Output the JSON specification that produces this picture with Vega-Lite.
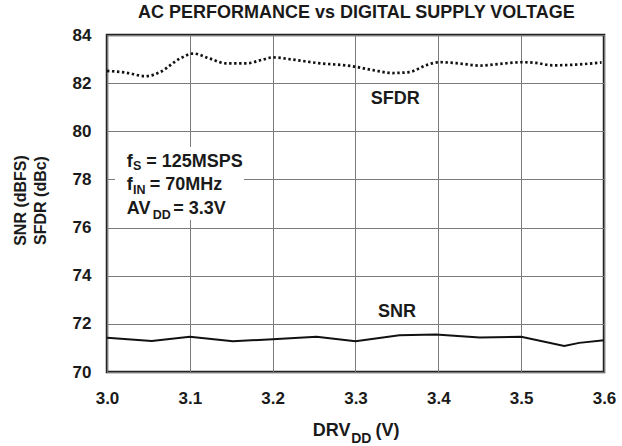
{
  "$schema": "https://vega.github.io/schema/vega-lite/v6.json",
  "width": 497,
  "height": 337,
  "autosize": {"type": "none"},
  "padding": {"left": 107, "top": 35, "right": 18, "bottom": 74},
  "background": "white",
  "config": {
    "font": "Liberation Sans",
    "view": {"stroke": "#222222", "strokeWidth": 2.5},
    "axis": {
      "labelFont": "Liberation Sans",
      "labelFontWeight": "bold",
      "labelFontSize": 17,
      "labelColor": "#1a1a1a",
      "ticks": false,
      "domain": false,
      "grid": true,
      "gridColor": "#7a7a7a",
      "gridWidth": 1,
      "labelFlush": false,
      "labelOverlap": false,
      "labelBound": false
    }
  },
  "datasets": {
    "curves": [
      {"series": "SFDR", "drv": 3.000, "value": 82.51},
      {"series": "SFDR", "drv": 3.022, "value": 82.44},
      {"series": "SFDR", "drv": 3.047, "value": 82.29},
      {"series": "SFDR", "drv": 3.064, "value": 82.46},
      {"series": "SFDR", "drv": 3.088, "value": 83.02},
      {"series": "SFDR", "drv": 3.104, "value": 83.23},
      {"series": "SFDR", "drv": 3.124, "value": 83.02},
      {"series": "SFDR", "drv": 3.144, "value": 82.82},
      {"series": "SFDR", "drv": 3.168, "value": 82.82},
      {"series": "SFDR", "drv": 3.188, "value": 82.98},
      {"series": "SFDR", "drv": 3.200, "value": 83.07},
      {"series": "SFDR", "drv": 3.224, "value": 82.98},
      {"series": "SFDR", "drv": 3.253, "value": 82.84},
      {"series": "SFDR", "drv": 3.297, "value": 82.70},
      {"series": "SFDR", "drv": 3.321, "value": 82.54},
      {"series": "SFDR", "drv": 3.345, "value": 82.42},
      {"series": "SFDR", "drv": 3.365, "value": 82.46},
      {"series": "SFDR", "drv": 3.385, "value": 82.74},
      {"series": "SFDR", "drv": 3.401, "value": 82.87},
      {"series": "SFDR", "drv": 3.425, "value": 82.82},
      {"series": "SFDR", "drv": 3.450, "value": 82.73},
      {"series": "SFDR", "drv": 3.474, "value": 82.80},
      {"series": "SFDR", "drv": 3.502, "value": 82.87},
      {"series": "SFDR", "drv": 3.518, "value": 82.84},
      {"series": "SFDR", "drv": 3.538, "value": 82.74},
      {"series": "SFDR", "drv": 3.566, "value": 82.77},
      {"series": "SFDR", "drv": 3.597, "value": 82.86},
      {"series": "SNR", "drv": 3.000, "value": 71.42},
      {"series": "SNR", "drv": 3.054, "value": 71.29},
      {"series": "SNR", "drv": 3.100, "value": 71.46},
      {"series": "SNR", "drv": 3.152, "value": 71.28},
      {"series": "SNR", "drv": 3.200, "value": 71.36},
      {"series": "SNR", "drv": 3.253, "value": 71.46},
      {"series": "SNR", "drv": 3.300, "value": 71.28},
      {"series": "SNR", "drv": 3.353, "value": 71.53},
      {"series": "SNR", "drv": 3.397, "value": 71.56},
      {"series": "SNR", "drv": 3.450, "value": 71.43},
      {"series": "SNR", "drv": 3.500, "value": 71.46},
      {"series": "SNR", "drv": 3.552, "value": 71.08},
      {"series": "SNR", "drv": 3.570, "value": 71.21},
      {"series": "SNR", "drv": 3.600, "value": 71.32}
    ]
  },
  "layer": [
    {
      "data": {"name": "curves"},
      "transform": [{"filter": "datum.series === 'SNR'"}],
      "mark": {"type": "line", "color": "#111111", "strokeWidth": 2},
      "encoding": {
        "x": {
          "field": "drv", "type": "quantitative",
          "scale": {"domain": [3.0, 3.6], "nice": false, "zero": false},
          "axis": {"values": [3.0, 3.1, 3.2, 3.3, 3.4, 3.5, 3.6], "format": ".1f", "labelPadding": 18, "title": null}
        },
        "y": {
          "field": "value", "type": "quantitative",
          "scale": {"domain": [70, 84], "nice": false, "zero": false},
          "axis": {
            "values": [70, 72, 74, 76, 78, 80, 82, 84], "format": "d", "labelPadding": 16,
            "title": ["SNR (dBFS)", "SFDR (dBc)"],
            "titleFont": "Liberation Sans", "titleFontSize": 16, "titleFontWeight": "bold",
            "titleColor": "#1a1a1a", "titleLineHeight": 20, "titleAngle": 270,
            "titleBaseline": "alphabetic", "titleAlign": "center",
            "titleX": -82, "titleY": 165
          }
        }
      }
    },
    {
      "data": {"name": "curves"},
      "transform": [{"filter": "datum.series === 'SFDR'"}],
      "mark": {"type": "line", "color": "#111111", "strokeWidth": 2.7, "strokeDash": [2.4, 2.6], "interpolate": "monotone"},
      "encoding": {
        "x": {"field": "drv", "type": "quantitative"},
        "y": {"field": "value", "type": "quantitative"}
      }
    },
    {
      "data": {"values": [{}]},
      "mark": {"type": "rect", "fill": "white"},
      "encoding": {
        "x": {"datum": 3.0097, "type": "quantitative"},
        "x2": {"datum": 3.1654},
        "y": {"datum": 79.35, "type": "quantitative"},
        "y2": {"datum": 76.31}
      }
    },
    {
      "data": {"values": [{}]},
      "mark": {"type": "text", "text": "AC PERFORMANCE vs DIGITAL SUPPLY VOLTAGE", "font": "Liberation Sans", "fontWeight": "bold", "fontSize": 18, "color": "#1a1a1a", "align": "center", "baseline": "alphabetic"},
      "encoding": {"x": {"datum": 3.301, "type": "quantitative"}, "y": {"datum": 84.69, "type": "quantitative"}}
    },
    {
      "data": {"values": [{}]},
      "mark": {"type": "text", "text": "SFDR", "font": "Liberation Sans", "fontWeight": "bold", "fontSize": 18, "color": "#1a1a1a", "align": "center", "baseline": "alphabetic"},
      "encoding": {"x": {"datum": 3.348, "type": "quantitative"}, "y": {"datum": 81.15, "type": "quantitative"}}
    },
    {
      "data": {"values": [{}]},
      "mark": {"type": "text", "text": "SNR", "font": "Liberation Sans", "fontWeight": "bold", "fontSize": 18, "color": "#1a1a1a", "align": "center", "baseline": "alphabetic"},
      "encoding": {"x": {"datum": 3.35, "type": "quantitative"}, "y": {"datum": 72.27, "type": "quantitative"}}
    },
    {
      "data": {"values": [{}]},
      "mark": {"type": "text", "text": "f", "font": "Liberation Sans", "fontWeight": "bold", "fontSize": 18, "color": "#1a1a1a", "align": "left", "baseline": "alphabetic"},
      "encoding": {"x": {"datum": 3.0238, "type": "quantitative"}, "y": {"datum": 78.53, "type": "quantitative"}}
    },
    {
      "data": {"values": [{}]},
      "mark": {"type": "text", "text": "S", "font": "Liberation Sans", "fontWeight": "bold", "fontSize": 12.5, "color": "#1a1a1a", "align": "left", "baseline": "alphabetic", "dx": 6.3, "dy": 3.5},
      "encoding": {"x": {"datum": 3.0238, "type": "quantitative"}, "y": {"datum": 78.53, "type": "quantitative"}}
    },
    {
      "data": {"values": [{}]},
      "mark": {"type": "text", "text": "= 125MSPS", "font": "Liberation Sans", "fontWeight": "bold", "fontSize": 18, "color": "#1a1a1a", "align": "left", "baseline": "alphabetic", "dx": 19.5},
      "encoding": {"x": {"datum": 3.0238, "type": "quantitative"}, "y": {"datum": 78.53, "type": "quantitative"}}
    },
    {
      "data": {"values": [{}]},
      "mark": {"type": "text", "text": "f", "font": "Liberation Sans", "fontWeight": "bold", "fontSize": 18, "color": "#1a1a1a", "align": "left", "baseline": "alphabetic"},
      "encoding": {"x": {"datum": 3.0238, "type": "quantitative"}, "y": {"datum": 77.56, "type": "quantitative"}}
    },
    {
      "data": {"values": [{}]},
      "mark": {"type": "text", "text": "IN", "font": "Liberation Sans", "fontWeight": "bold", "fontSize": 12.5, "color": "#1a1a1a", "align": "left", "baseline": "alphabetic", "dx": 6.3, "dy": 3.5},
      "encoding": {"x": {"datum": 3.0238, "type": "quantitative"}, "y": {"datum": 77.56, "type": "quantitative"}}
    },
    {
      "data": {"values": [{}]},
      "mark": {"type": "text", "text": "= 70MHz", "font": "Liberation Sans", "fontWeight": "bold", "fontSize": 18, "color": "#1a1a1a", "align": "left", "baseline": "alphabetic", "dx": 23},
      "encoding": {"x": {"datum": 3.0238, "type": "quantitative"}, "y": {"datum": 77.56, "type": "quantitative"}}
    },
    {
      "data": {"values": [{}]},
      "mark": {"type": "text", "text": "AV", "font": "Liberation Sans", "fontWeight": "bold", "fontSize": 18, "color": "#1a1a1a", "align": "left", "baseline": "alphabetic"},
      "encoding": {"x": {"datum": 3.0238, "type": "quantitative"}, "y": {"datum": 76.56, "type": "quantitative"}}
    },
    {
      "data": {"values": [{}]},
      "mark": {"type": "text", "text": "DD", "font": "Liberation Sans", "fontWeight": "bold", "fontSize": 12.5, "color": "#1a1a1a", "align": "left", "baseline": "alphabetic", "dx": 26, "dy": 5},
      "encoding": {"x": {"datum": 3.0238, "type": "quantitative"}, "y": {"datum": 76.56, "type": "quantitative"}}
    },
    {
      "data": {"values": [{}]},
      "mark": {"type": "text", "text": "= 3.3V", "font": "Liberation Sans", "fontWeight": "bold", "fontSize": 18, "color": "#1a1a1a", "align": "left", "baseline": "alphabetic", "dx": 46.5},
      "encoding": {"x": {"datum": 3.0238, "type": "quantitative"}, "y": {"datum": 76.56, "type": "quantitative"}}
    },
    {
      "data": {"values": [{}]},
      "mark": {"type": "text", "text": "DRV", "font": "Liberation Sans", "fontWeight": "bold", "fontSize": 18, "color": "#1a1a1a", "align": "left", "baseline": "alphabetic"},
      "encoding": {"x": {"datum": 3.2485, "type": "quantitative"}, "y": {"datum": 67.34, "type": "quantitative"}}
    },
    {
      "data": {"values": [{}]},
      "mark": {"type": "text", "text": "DD", "font": "Liberation Sans", "fontWeight": "bold", "fontSize": 14, "color": "#1a1a1a", "align": "left", "baseline": "alphabetic", "dx": 38.4, "dy": 7},
      "encoding": {"x": {"datum": 3.2485, "type": "quantitative"}, "y": {"datum": 67.34, "type": "quantitative"}}
    },
    {
      "data": {"values": [{}]},
      "mark": {"type": "text", "text": "(V)", "font": "Liberation Sans", "fontWeight": "bold", "fontSize": 18, "color": "#1a1a1a", "align": "left", "baseline": "alphabetic", "dx": 62.7},
      "encoding": {"x": {"datum": 3.2485, "type": "quantitative"}, "y": {"datum": 67.34, "type": "quantitative"}}
    }
  ]
}
